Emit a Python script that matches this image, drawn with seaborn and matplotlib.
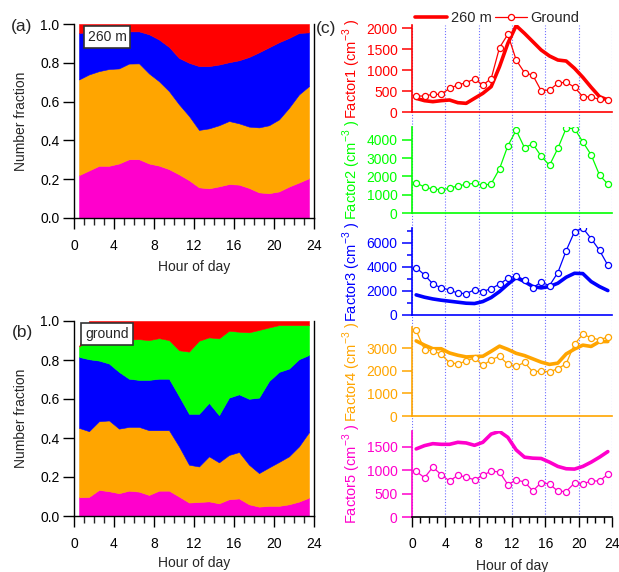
import numpy as np
import matplotlib
matplotlib.use("Agg")
import matplotlib.pyplot as plt
from matplotlib.ticker import MultipleLocator
import seaborn as sns

# ---------------------------------------------------------------- data
hours = np.arange(0.5, 24.0, 1.0)

# (a) number fractions at 260 m (Factor2 absent aloft)
a_factor5 = [0.221, 0.245, 0.269, 0.269, 0.281, 0.303, 0.303, 0.281, 0.270, 0.252, 0.225, 0.195,
             0.158, 0.153, 0.163, 0.175, 0.172, 0.155, 0.132, 0.128, 0.137, 0.162, 0.183, 0.205]
a_factor4 = [0.493, 0.495, 0.488, 0.499, 0.490, 0.493, 0.494, 0.464, 0.435, 0.402, 0.361, 0.331,
             0.296, 0.309, 0.315, 0.325, 0.316, 0.316, 0.335, 0.350, 0.371, 0.406, 0.454, 0.475]
a_factor3 = [0.240, 0.218, 0.203, 0.193, 0.191, 0.166, 0.165, 0.202, 0.215, 0.228, 0.239, 0.274,
             0.329, 0.321, 0.313, 0.303, 0.325, 0.359, 0.387, 0.402, 0.398, 0.360, 0.317, 0.277]
a_factor1 = [0.046, 0.042, 0.040, 0.039, 0.038, 0.038, 0.038, 0.053, 0.080, 0.118, 0.175, 0.200,
             0.217, 0.217, 0.209, 0.197, 0.187, 0.170, 0.146, 0.120, 0.094, 0.072, 0.046, 0.043]

# (b) number fractions at ground
b_factor5 = [0.096, 0.098, 0.134, 0.127, 0.117, 0.130, 0.125, 0.108, 0.130, 0.130, 0.100, 0.069,
             0.072, 0.075, 0.065, 0.086, 0.090, 0.060, 0.048, 0.052, 0.052, 0.060, 0.074, 0.094]
b_factor4 = [0.356, 0.337, 0.352, 0.363, 0.331, 0.327, 0.332, 0.332, 0.310, 0.310, 0.257, 0.194,
             0.182, 0.231, 0.210, 0.227, 0.238, 0.203, 0.172, 0.197, 0.225, 0.246, 0.283, 0.336]
b_factor3 = [0.364, 0.369, 0.311, 0.292, 0.291, 0.247, 0.241, 0.258, 0.264, 0.264, 0.258, 0.261,
             0.270, 0.274, 0.242, 0.294, 0.296, 0.338, 0.387, 0.443, 0.462, 0.450, 0.447, 0.396]
b_factor2 = [0.054, 0.096, 0.108, 0.123, 0.166, 0.201, 0.209, 0.204, 0.208, 0.198, 0.235, 0.319,
             0.375, 0.336, 0.394, 0.343, 0.321, 0.341, 0.347, 0.275, 0.240, 0.223, 0.175, 0.153]
b_factor1 = [0.000, 0.100, 0.095, 0.095, 0.095, 0.095, 0.093, 0.098, 0.088, 0.098, 0.150, 0.157,
             0.101, 0.084, 0.089, 0.050, 0.055, 0.058, 0.046, 0.033, 0.021, 0.021, 0.021, 0.021]

# (c) number concentrations (cm^-3)
f1_260m = [327, 271, 247, 271, 287, 223, 207, 327, 446, 606, 1084, 1641,
           2064, 1880, 1681, 1482, 1339, 1243, 1219, 1044, 829, 590, 367, 287]
f1_ground = [382, 382, 422, 422, 566, 645, 701, 789, 645, 797, 1538, 1857,
             1243, 940, 877, 510, 526, 685, 717, 590, 367, 359, 303, 287]
f2_ground = [1653, 1423, 1317, 1282, 1353, 1494, 1564, 1635, 1511, 1600, 2411, 3663,
             4510, 3557, 3769, 3099, 2605, 3522, 4616, 4598, 3875, 3169, 2076, 1582]
f3_260m = [1639, 1444, 1300, 1194, 1111, 1028, 944, 917, 1083, 1417, 1917, 2528,
           3083, 2750, 2333, 2222, 2333, 2611, 3111, 3444, 3417, 2750, 2333, 2000]
f3_ground = [3917, 3306, 2556, 2222, 2056, 1778, 1750, 2056, 1917, 2167, 2528, 3028,
             3222, 2889, 2250, 2694, 2417, 3500, 5333, 6917, 7222, 6333, 5361, 4111]
f4_260m = [3333, 3145, 2986, 2986, 2797, 2696, 2623, 2638, 2652, 2870, 3101, 2957,
           2783, 2681, 2536, 2391, 2290, 2348, 2754, 2971, 3145, 3087, 3304, 3304]
f4_ground = [3797, 2942, 2899, 2739, 2362, 2319, 2435, 2580, 2246, 2493, 2652, 2290,
             2203, 2377, 1957, 2000, 1957, 2101, 2319, 3188, 3623, 3478, 3377, 3507]
f5_260m = [1458, 1528, 1570, 1556, 1556, 1599, 1585, 1535, 1599, 1775, 1831, 1704,
           1437, 1282, 1261, 1254, 1176, 1085, 1035, 1028, 1085, 1176, 1282, 1401]
f5_ground = [979, 845, 1070, 908, 775, 894, 859, 796, 894, 986, 965, 697,
             796, 754, 563, 739, 711, 556, 549, 732, 711, 775, 775, 915]

factor_names = ["Factor1", "Factor2", "Factor3", "Factor4", "Factor5"]
factor_colors = ["#ff0000", "#00ff00", "#0000ff", "#ffa500", "#ff00cc"]
tower_series = [f1_260m, None, f3_260m, f4_260m, f5_260m]
ground_series = [f1_ground, f2_ground, f3_ground, f4_ground, f5_ground]
y_max = [2080, 4700, 7200, 3950, 1840]
y_major = [500, 1000, 2000, 1000, 500]
y_minor = [None, None, 1000, None, None]

# ---------------------------------------------------------------- style
sns.set_style("ticks")
plt.rcParams["font.family"] = ["Liberation Sans", "DejaVu Sans"]
plt.rcParams["mathtext.fontset"] = "custom"
plt.rcParams["mathtext.rm"] = "Liberation Sans"
plt.rcParams["axes.linewidth"] = 1.0
FS = 10

W, H = 619, 572
fig = plt.figure(figsize=(W / 100, H / 100), dpi=100)


def rect(left, top, right, bottom):
    return [left / W, 1 - bottom / H, (right - left) / W, (bottom - top) / H]


# ---------------------------------------------------------------- (a), (b)
def stacked_panel(ax, layers, colors, tag):
    ax.stackplot(hours, *layers, colors=colors, linewidth=0.4, edgecolor="face")
    ax.set_xlim(0, 24)
    ax.set_ylim(0, 1)
    ax.spines["top"].set_visible(False)
    for s in ("left", "bottom", "right"):
        ax.spines[s].set_color("black")
        ax.spines[s].set_linewidth(1.0)
    ax.xaxis.set_major_locator(MultipleLocator(4))
    ax.xaxis.set_minor_locator(MultipleLocator(1))
    ax.yaxis.set_major_locator(MultipleLocator(0.2))
    ax.yaxis.set_major_formatter(matplotlib.ticker.FormatStrFormatter("%.1f"))
    ax.tick_params(axis="x", which="major", direction="out", length=8, width=1,
                   pad=7, labelsize=FS, colors="black")
    ax.tick_params(axis="x", which="minor", direction="out", length=4.8, width=1)
    ax.tick_params(axis="y", which="major", direction="out", length=8, width=1,
                   pad=2.5, labelsize=FS, colors="black", right=False)
    ax.set_xlabel("Hour of day", fontsize=FS)
    ax.set_ylabel("Number fraction", fontsize=FS)
    ax.text(0.138, 0.933, tag, transform=ax.transAxes, ha="center", va="center",
            fontsize=FS, zorder=5,
            bbox=dict(boxstyle="square,pad=0.28", facecolor="white",
                      edgecolor="#333333", linewidth=1.2))
    ax.set_facecolor("white")


ax_a = fig.add_axes(rect(74, 24, 314, 218))
stacked_panel(ax_a, [a_factor5, a_factor4, a_factor3, a_factor1],
              [factor_colors[4], factor_colors[3], factor_colors[2], factor_colors[0]],
              "260 m")
ax_a.yaxis.set_label_coords(-0.22, 0.5)
ax_a.xaxis.set_label_coords(0.5, -0.253)
ax_a.xaxis.label.set_va("center")
ax_a.yaxis.label.set_va("center")

ax_b = fig.add_axes(rect(74, 321, 314, 516))
stacked_panel(ax_b, [b_factor5, b_factor4, b_factor3, b_factor2, b_factor1],
              [factor_colors[4], factor_colors[3], factor_colors[2], factor_colors[1],
               factor_colors[0]],
              "ground")
ax_b.yaxis.set_label_coords(-0.22, 0.5)
ax_b.xaxis.set_label_coords(0.5, -0.241)
ax_b.xaxis.label.set_va("center")
ax_b.yaxis.label.set_va("center")

# ---------------------------------------------------------------- (c)
col_left, col_right = 412, 612
tops = [25, 126.7, 228.3, 327, 431]
bottoms = [112, 213.3, 314.5, 416, 517.3]

# vertical hour guides running through the whole column
ax_grid = fig.add_axes(rect(col_left, tops[0], col_right, bottoms[-1]), zorder=0)
ax_grid.set_xlim(0, 24)
ax_grid.set_ylim(0, 1)
ax_grid.axis("off")
for hx in range(0, 25, 4):
    ax_grid.axvline(hx, color="#6f6fff", lw=0.8, ls=(0, (1, 1.6)))

conc_axes = []
for i, name in enumerate(factor_names):
    c = factor_colors[i]
    ax = fig.add_axes(rect(col_left, tops[i], col_right, bottoms[i]), zorder=2)
    ax.set_facecolor("none")
    if tower_series[i] is not None:
        sns.lineplot(x=hours, y=tower_series[i], ax=ax, color=c, lw=2.6,
                     label="260 m", legend=False)
    sns.lineplot(x=hours, y=ground_series[i], ax=ax, color=c, lw=0.9,
                 marker="o", markersize=4.4, markerfacecolor="white",
                 markeredgecolor=c, markeredgewidth=0.9, label="Ground", legend=False)
    ax.set_xlim(0, 24)
    ax.set_ylim(0, y_max[i])
    ax.spines["top"].set_visible(False)
    ax.spines["right"].set_visible(False)
    ax.spines["left"].set_color(c)
    ax.spines["left"].set_linewidth(1.2)
    ax.spines["bottom"].set_linewidth(1.2)
    ax.yaxis.set_major_locator(MultipleLocator(y_major[i]))
    if y_minor[i]:
        ax.yaxis.set_minor_locator(MultipleLocator(y_minor[i]))
    else:
        ax.yaxis.set_minor_locator(matplotlib.ticker.NullLocator())
    ax.tick_params(axis="y", which="major", direction="out", length=7, width=1.1,
                   color=c, labelcolor=c, labelsize=FS, pad=3.5)
    ax.tick_params(axis="y", which="minor", direction="out", length=3.5, width=1.1,
                   color=c)
    ax.set_ylabel(f"{name} (cm$^{{\\mathregular{{-3}}}}$ )", color=c, fontsize=10.5)
    ax.yaxis.set_label_coords(-0.30, 0.5)
    ax.yaxis.label.set_va("center")
    if i < len(factor_names) - 1:
        ax.spines["bottom"].set_color(c)
        ax.tick_params(axis="x", which="both", length=0, labelbottom=False)
        ax.set_xlabel("")
    else:
        ax.spines["bottom"].set_color("black")
        ax.xaxis.set_major_locator(MultipleLocator(4))
        ax.xaxis.set_minor_locator(MultipleLocator(1))
        ax.tick_params(axis="x", which="major", direction="out", length=7.5, width=1,
                       color="black", labelcolor="black", labelsize=FS, pad=7)
        ax.tick_params(axis="x", which="minor", direction="out", length=4, width=1,
                       color="black")
        ax.set_xlabel("Hour of day", fontsize=FS)
        ax.xaxis.set_label_coords(0.5, -0.56)
        ax.xaxis.label.set_va("center")
    conc_axes.append(ax)

handles, labels = conc_axes[0].get_legend_handles_labels()
conc_axes[0].legend(handles, labels, loc="center left", bbox_to_anchor=(0.015, 1.08),
                    ncol=2, frameon=False, fontsize=10.5, handlelength=2.2,
                    handletextpad=0.25, columnspacing=0.2, borderpad=0,
                    borderaxespad=0)

# panel letters
fig.text(22 / W, 1 - 26 / H, "(a)", fontsize=12.5, ha="center", va="center")
fig.text(22 / W, 1 - 333 / H, "(b)", fontsize=12.5, ha="center", va="center")
fig.text(326 / W, 1 - 28 / H, "(c)", fontsize=12.5, ha="center", va="center")

fig.savefig("out.png", dpi=100)
